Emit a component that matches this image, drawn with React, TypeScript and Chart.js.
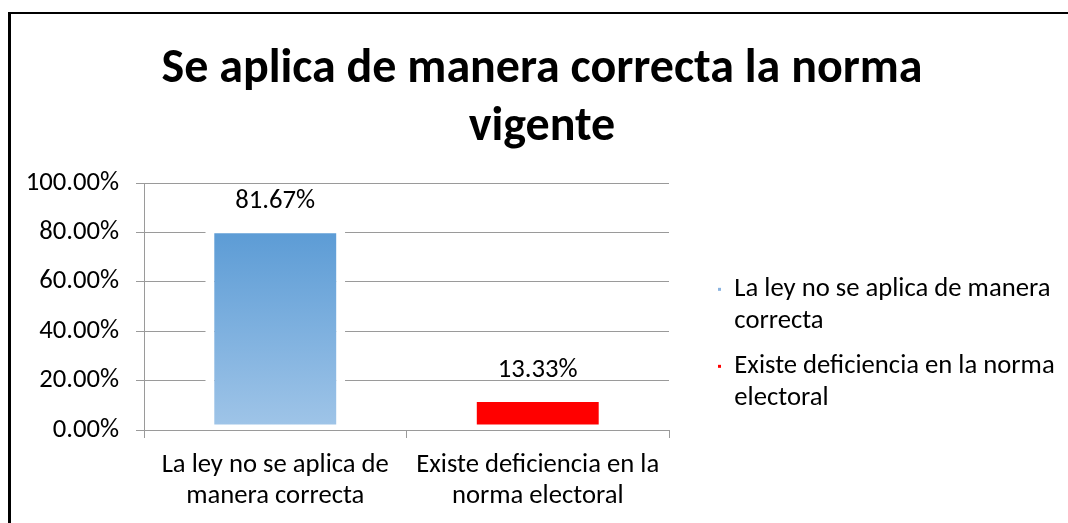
import React, { useEffect, useRef } from 'react';
import { Chart, registerables } from 'chart.js';

Chart.register(...registerables);

const titleLines = ['Se aplica de manera correcta la norma', 'vigente'];
const categories = [
  ['La ley no se aplica de', 'manera correcta'],
  ['Existe deficiencia en la', 'norma electoral'],
];
const legendLabels = [
  ['La ley no se aplica de manera', 'correcta'],
  ['Existe deficiencia en la norma', 'electoral'],
];
const values = [81.67, 13.33];
const yTicks = [0, 20, 40, 60, 80, 100];

const FONT = 'Carlito, Lato, sans-serif';
const FS = 26.67;
const BLUE_TOP = '#5b9bd5';
const BLUE_BOTTOM = '#a0c5e8';
const RED = '#ff0000';
const legendColors = ['#8ab3e0', RED];
const GRID = '#9a9a9a';

const fmt = (v: number) => v.toFixed(2) + '%';

const framePlugin = {
  id: 'frame',
  beforeDraw(chart: any) {
    const c = chart.ctx;
    c.save();
    c.fillStyle = '#ffffff';
    c.fillRect(0, 0, chart.width, chart.height);
    c.fillStyle = '#000000';
    c.fillRect(8, 12, 3, chart.height - 12);
    c.fillRect(8, 12, chart.width - 8, 2);
    c.restore();
  },
};

const valueLabelPlugin = {
  id: 'valueLabels',
  afterDatasetsDraw(chart: any) {
    const meta = chart.getDatasetMeta(0);
    const c = chart.ctx;
    c.save();
    c.font = `${FS}px ${FONT}`;
    c.fillStyle = '#000000';
    c.textAlign = 'center';
    c.textBaseline = 'middle';
    meta.data.forEach((bar: any, i: number) => {
      c.fillText(fmt(values[i]), bar.x, bar.y - 27);
    });
    c.restore();
  },
};

export default function App() {
  const ref = useRef<HTMLCanvasElement | null>(null);

  useEffect(() => {
    if (!ref.current) return;
    const chart = new Chart(ref.current, {
      type: 'bar',
      data: {
        labels: categories as any,
        datasets: [
          {
            data: values,
            yAxisID: 'y',
            backgroundColor: (ctx: any) => {
              const i = ctx.dataIndex;
              if (i === 1) return RED;
              const ch = ctx.chart;
              const area = ch.chartArea;
              if (!area || !ch.scales.y) return BLUE_TOP;
              const top = ch.scales.y.getPixelForValue(values[0]);
              const g = ch.ctx.createLinearGradient(0, top, 0, area.bottom);
              g.addColorStop(0, BLUE_TOP);
              g.addColorStop(1, BLUE_BOTTOM);
              return g;
            },
            borderColor: '#ffffff',
            borderWidth: { top: 5, bottom: 5, left: 9, right: 9 },
            borderSkipped: false,
            barPercentage: 0.533,
            categoryPercentage: 1,
          },
        ],
      },
      options: {
        responsive: true,
        maintainAspectRatio: false,
        animation: false,
        layout: { padding: { top: 14, left: 24, right: 8, bottom: -1 } },
        plugins: {
          title: {
            display: true,
            text: titleLines,
            color: '#000000',
            font: { family: FONT, size: 48, weight: 'bold', lineHeight: '58px' },
            padding: { top: 27, bottom: 26 },
          },
          legend: {
            display: true,
            position: 'right',
            align: 'end',
            fullSize: false,
            maxWidth: 355,
            labels: {
              boxWidth: 3,
              boxHeight: 3,
              padding: 13,
              color: '#000000',
              font: { family: FONT, size: FS, lineHeight: '32px' },
              generateLabels: () =>
                legendLabels.map((t, i) => ({
                  text: t as any,
                  fillStyle: legendColors[i],
                  strokeStyle: legendColors[i],
                  lineWidth: 0,
                  hidden: false,
                  index: i,
                  datasetIndex: 0,
                })),
            },
          },
          tooltip: { enabled: false },
        },
        scales: {
          y: {
            type: 'linear',
            position: 'left',
            min: yTicks[0],
            max: yTicks[yTicks.length - 1],
            afterBuildTicks: (scale: any) => {
              scale.ticks = yTicks.map((v) => ({ value: v }));
            },
            ticks: {
              padding: 17,
              color: '#000000',
              font: { family: FONT, size: FS },
              callback: (v: any) => fmt(Number(v)),
            },
            grid: { color: GRID, lineWidth: 1, tickLength: 8, drawTicks: true },
            border: { display: true, color: GRID, width: 1 },
            afterFit: (scale: any) => {
              scale.width = 120;
            },
          },
          yRight: {
            type: 'linear',
            position: 'right',
            display: true,
            grid: { display: false },
            border: { display: false },
            ticks: { display: false },
            afterFit: (scale: any) => {
              scale.width = 36;
            },
          },
          x: {
            z: 1,
            ticks: {
              padding: 12,
              color: '#000000',
              font: { family: FONT, size: FS, lineHeight: '31px' },
              maxRotation: 0,
              autoSkip: false,
            },
            grid: {
              display: true,
              drawOnChartArea: false,
              drawTicks: true,
              tickLength: 8,
              color: GRID,
              lineWidth: 1,
            },
            border: { display: true, color: GRID, width: 1 },
          },
        },
      } as any,
      plugins: [framePlugin, valueLabelPlugin],
    });
    return () => chart.destroy();
  }, []);

  return (
    <div style={{ position: 'absolute', left: 0, top: 0, width: 1068, height: 523 }}>
      <canvas ref={ref} />
    </div>
  );
}
